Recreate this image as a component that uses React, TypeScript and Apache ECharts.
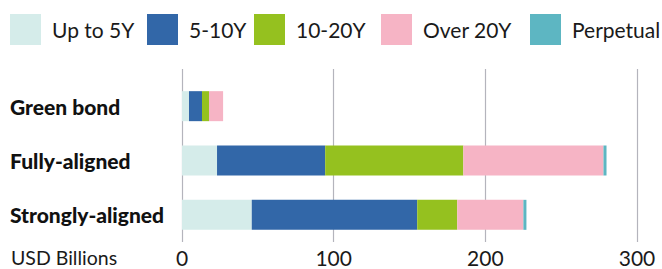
import React, { useEffect, useRef } from "react";
import * as echarts from "echarts";

const categories = ["Green bond", "Fully-aligned", "Strongly-aligned"];
const seriesNames = ["Up to 5Y", "5-10Y", "10-20Y", "Over 20Y", "Perpetual"];
const upTo5Y = [4.6, 23.1, 46.0];
const y5to10 = [8.6, 71.3, 109.1];
const y10to20 = [4.6, 91.1, 26.4];
const over20Y = [9.3, 92.4, 43.6];
const perpetual = [0, 2.0, 2.0];
const xTicks = [0, 100, 200, 300];
const colors = ["#d5ecea", "#3267a8", "#95c11f", "#f6b4c5", "#5db6c2"];

const FONT = "Lato, 'Open Sans', sans-serif";

export default function App() {
  const ref = useRef<HTMLDivElement>(null);
  useEffect(() => {
    if (!ref.current) return;
    const chart = echarts.init(ref.current, undefined, { renderer: "svg" });
    const values = [upTo5Y, y5to10, y10to20, over20Y, perpetual];
    const legendLefts = [10, 147, 254, 381, 530];
    const option: any = {
      animation: false,
      textStyle: { fontFamily: FONT },
      legend: seriesNames.map((n, i) => ({
        data: [n],
        left: legendLefts[i],
        top: 14,
        itemWidth: 31,
        itemHeight: 31,
        icon: "rect",
        padding: 0,
        textStyle: { fontSize: 21, color: "#1a1a1a", fontFamily: FONT, padding: [0, 0, 0, 6] },
      })),
      grid: [
        { left: 182, right: 25, top: 79, bottom: 27, containLabel: false },
        { left: 182, right: 25, top: 69, bottom: 27, containLabel: false },
      ],
      xAxis: [
        {
          type: "value",
          gridIndex: 0,
          min: 0,
          max: 300,
          interval: 100,
          axisLine: { show: false },
          axisTick: { show: false },
          splitLine: { show: false },
          axisLabel: {
            fontSize: 21,
            color: "#1a1a1a",
            fontFamily: FONT,
            margin: 5,
            lineHeight: 21,
            formatter: (v: number) => (xTicks.includes(v) ? String(v) : ""),
          },
        },
        {
          type: "value",
          gridIndex: 1,
          min: 0,
          max: 300,
          interval: 100,
          axisLine: { show: false },
          axisTick: { show: false },
          axisLabel: { show: false },
          splitLine: { show: true, lineStyle: { color: "#b4b4bc", width: 1.2 } },
        },
      ],
      yAxis: [
        {
          type: "category",
          gridIndex: 0,
          data: categories,
          inverse: true,
          axisLine: { show: false },
          axisTick: { show: false },
          axisLabel: {
            align: "left",
            margin: 172,
            fontSize: 21,
            fontWeight: 900,
            color: "#111",
            fontFamily: FONT,
          },
        },
        {
          type: "category",
          gridIndex: 1,
          data: ["a"],
          show: false,
        },
      ],
      series: seriesNames.map((n, i) => ({
        name: n,
        type: "bar",
        stack: "total",
        xAxisIndex: 0,
        yAxisIndex: 0,
        barWidth: 30,
        itemStyle: { color: colors[i] },
        data: values[i],
        z: 5,
      })),
      graphic: [
        {
          type: "text",
          left: 11,
          top: 247,
          style: { text: "USD Billions", fontSize: 19.5, lineHeight: 20, fill: "#1a1a1a", fontFamily: FONT },
        },
      ],
    };
    chart.setOption(option);
    return () => chart.dispose();
  }, []);
  return <div ref={ref} style={{ width: 662, height: 269, position: "absolute", left: 0, top: 0, background: "#fff" }} />;
}
